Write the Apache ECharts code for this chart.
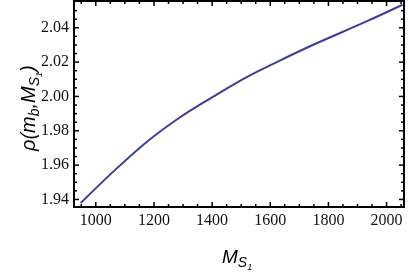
<!DOCTYPE html>
<html><head><meta charset="utf-8">
<script src="https://cdn.jsdelivr.net/npm/echarts@6/dist/echarts.min.js"></script>
<style>html,body{margin:0;padding:0;background:#fff}#c{width:409px;height:275px}</style>
</head><body><div id="c"></div>
<script>
// ---- data ----
const massValues = [948, 1060, 1175, 1290, 1404, 1519, 1633, 1748, 1931, 2055];
const rhoValues  = [1.9379, 1.9562, 1.9735, 1.9879, 1.9999, 2.0113, 2.0209, 2.0301, 2.0437, 2.0534];
const xMajorTicks = [1000, 1200, 1400, 1600, 1800, 2000];
const xMinorTicks = [950, 1050, 1100, 1150, 1250, 1300, 1350, 1450, 1500, 1550, 1650, 1700, 1750, 1850, 1900, 1950, 2050];
const yMajorTicks = [1.94, 1.96, 1.98, 2.00, 2.02, 2.04];
const yMinorTicks = [1.945, 1.95, 1.955, 1.965, 1.97, 1.975, 1.985, 1.99, 1.995, 2.005, 2.01, 2.015, 2.025, 2.03, 2.035, 2.045, 2.05];
const xRange = [925, 2060];
const yRange = [1.9356, 2.0556];

const chart = echarts.init(document.getElementById('c'));

const labelStyle = {color: '#111', fontFamily: 'Liberation Serif', fontSize: 16};

// measure text for the math-like axis titles
const mctx = document.createElement('canvas').getContext('2d');
function tw(t, font) { mctx.font = font; return mctx.measureText(t).width; }
function mathRun(parts, base) {
  let x = 0; const kids = [];
  parts.forEach(p => {
    const font = 'italic ' + p.size + 'px "Liberation Sans"';
    const y = 0.3 * base + (p.drop || 0) - 0.3 * p.size;
    kids.push({type: 'text', x: x, y: y, style: {text: p.t, font: font, fill: '#000', align: 'left', verticalAlign: 'middle'}});
    x += tw(p.t, font) + (p.gap || 0);
  });
  return kids;
}
const yTitle = mathRun([
  {t: '\u03C1(m', size: 20},
  {t: 'b', size: 14, drop: 4},
  {t: ',', size: 20},
  {t: 'M', size: 20},
  {t: 'S', size: 14, drop: 4},
  {t: '1', size: 9, drop: 7},
  {t: ')', size: 20}
], 20);
const xTitle = mathRun([
  {t: 'M', size: 19},
  {t: 'S', size: 14, drop: 4},
  {t: '1', size: 9, drop: 7}
], 19);

// frame ticks drawn through the axes' scales (api.coord), on all four sides, pointing inward
function tickSeries(dim, values, len) {
  const data = values.map(v => dim === 'x' ? [v, yRange[0]] : [xRange[0], v]);
  return {
    type: 'custom', silent: true, z: 5, clip: false,
    encode: {x: 0, y: 1},
    data: data,
    renderItem: function (params, api) {
      const sty = {stroke: '#000', lineWidth: 1.5};
      if (dim === 'x') {
        const v = api.value(0);
        const b = api.coord([v, yRange[0]]);
        const t = api.coord([v, yRange[1]]);
        return {type: 'group', children: [
          {type: 'line', shape: {x1: b[0], y1: b[1], x2: b[0], y2: b[1] - len}, style: sty},
          {type: 'line', shape: {x1: t[0], y1: t[1], x2: t[0], y2: t[1] + len}, style: sty}
        ]};
      } else {
        const v = api.value(1);
        const l = api.coord([xRange[0], v]);
        const r = api.coord([xRange[1], v]);
        return {type: 'group', children: [
          {type: 'line', shape: {x1: l[0], y1: l[1], x2: l[0] + len, y2: l[1]}, style: sty},
          {type: 'line', shape: {x1: r[0], y1: r[1], x2: r[0] - len, y2: r[1]}, style: sty}
        ]};
      }
    }
  };
}

chart.setOption({
  animation: false,
  grid: {left: 74, top: 1, width: 330, height: 206, show: true, borderColor: '#000', borderWidth: 2,
         containLabel: false, outerBoundsMode: 'none'},
  xAxis: {
    type: 'value', position: 'bottom', min: xRange[0], max: xRange[1],
    axisLine: {show: false, onZero: false}, splitLine: {show: false}, axisTick: {show: false},
    axisLabel: Object.assign({show: true, customValues: xMajorTicks, margin: 6,
      formatter: v => String(Math.round(v))}, labelStyle)
  },
  yAxis: {
    type: 'value', position: 'left', min: yRange[0], max: yRange[1],
    axisLine: {show: false, onZero: false}, splitLine: {show: false}, axisTick: {show: false},
    axisLabel: Object.assign({show: true, customValues: yMajorTicks, margin: 5,
      formatter: v => Number(v).toFixed(2)}, labelStyle)
  },
  series: [
    {
      type: 'line',
      data: massValues.map((m, i) => [m, rhoValues[i]]),
      showSymbol: false, smooth: 0.35,
      lineStyle: {color: '#3d3d99', width: 2}, clip: true
    },
    tickSeries('x', xMajorTicks, 5),
    tickSeries('x', xMinorTicks, 3),
    tickSeries('y', yMajorTicks, 5),
    tickSeries('y', yMinorTicks, 3)
  ],
  graphic: [
    {type: 'group', x: 222, y: 257.5, children: xTitle},
    {type: 'group', x: 29, y: 151, rotation: Math.PI / 2, children: yTitle}
  ]
});
</script></body></html>
